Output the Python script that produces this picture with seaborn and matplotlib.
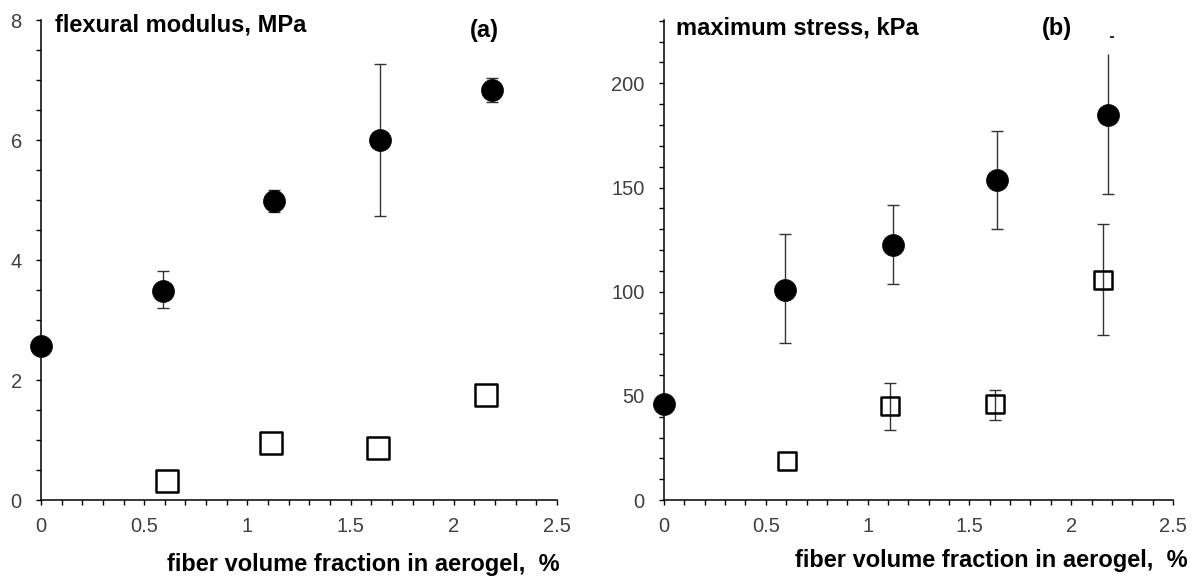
import numpy as np
import pandas as pd
import matplotlib
matplotlib.use("Agg")
import matplotlib.pyplot as plt
import seaborn as sns
from matplotlib.ticker import MultipleLocator

sns.set_theme(style="white")
plt.rcParams['font.family'] = ['Liberation Sans', 'DejaVu Sans']

# ---- data: panel (a) flexural modulus, MPa ----
a_fill_x = [0.0, 0.59, 1.128, 1.641, 2.185]
a_fill_y = [2.57, 3.49, 4.98, 6.0, 6.83]
a_fill_lo = [2.57, 3.2, 4.80, 4.73, 6.63]
a_fill_hi = [2.57, 3.82, 5.16, 7.26, 7.04]
a_open_x = [0.612, 1.115, 1.632, 2.157]
a_open_y = [0.32, 0.956, 0.864, 1.758]

# ---- data: panel (b) maximum stress, kPa ----
b_fill_x = [0.0, 0.593, 1.123, 1.637, 2.18]
b_fill_y = [46.2, 100.8, 122.3, 153.8, 184.7]
b_fill_lo = [46.2, 75.4, 103.6, 130.0, 146.7]
b_fill_hi = [46.2, 127.5, 141.5, 177.2, 214.2]
b_fill_hicap = [True, True, True, True, False]
b_open_x = [0.606, 1.11, 1.627, 2.154]
b_open_y = [18.7, 45.3, 45.9, 105.4]
b_open_lo = [18.7, 33.4, 38.6, 79.1]
b_open_hi = [18.7, 56.4, 53.0, 132.4]
b_stray_x = [2.2]
b_stray_y = [222.2]

xlabel = "fiber volume fraction in aerogel,  %"

W, H = 1200, 581
fig = plt.figure(figsize=(12, 5.81), dpi=100)
axA = fig.add_axes([41 / W, (H - 500) / H, (557 - 41) / W, 480 / H])
axB = fig.add_axes([664 / W, (H - 500) / H, (1173 - 664) / W, 480 / H])

tick_col = '#404040'
err_col = '#333333'


def style(ax, ymax, ymajor, yminor):
    ax.set_xlim(0, 2.5)
    ax.set_ylim(0, ymax)
    ax.xaxis.set_major_locator(MultipleLocator(0.5))
    ax.xaxis.set_minor_locator(MultipleLocator(0.1))
    ax.yaxis.set_major_locator(MultipleLocator(ymajor))
    ax.yaxis.set_minor_locator(MultipleLocator(yminor))
    ax.xaxis.set_major_formatter(plt.FuncFormatter(lambda v, p: f"{v:g}"))
    ax.yaxis.set_major_formatter(plt.FuncFormatter(lambda v, p: f"{v:g}"))
    for s in ['top', 'right']:
        ax.spines[s].set_visible(False)
    for s in ['left', 'bottom']:
        ax.spines[s].set_color('black')
        ax.spines[s].set_linewidth(1.1)
    ax.tick_params(axis='both', which='both', direction='out', color='black',
                   width=1.0, labelcolor=tick_col, labelsize=14.5,
                   bottom=True, left=True, top=False, right=False)
    ax.tick_params(axis='both', which='both', length=3.8)
    ax.tick_params(axis='x', which='major', pad=8.5)
    ax.tick_params(axis='y', which='major', pad=10)
    ax.grid(False)
    ax.set_facecolor('white')
    ax.set_xlabel('')
    ax.set_ylabel('')


def errbars(ax, x, lo, hi, hicap=None):
    x = np.asarray(x); lo = np.asarray(lo); hi = np.asarray(hi)
    if hicap is None:
        hicap = np.ones(len(x), bool)
    hicap = np.asarray(hicap, bool)
    ax.vlines(x, lo, hi, colors=err_col, linewidth=1.0, zorder=2)
    ax.scatter(x, lo, marker='_', s=85, color=err_col, linewidths=1.0, zorder=2)
    ax.scatter(x[hicap], hi[hicap], marker='_', s=85, color=err_col, linewidths=1.0, zorder=2)


def px(xp, yp):
    return xp / W, 1 - yp / H


# ---- panel (a) ----
dfa_f = pd.DataFrame({'x': a_fill_x, 'y': a_fill_y})
dfa_o = pd.DataFrame({'x': a_open_x, 'y': a_open_y})
errbars(axA, a_fill_x[1:], a_fill_lo[1:], a_fill_hi[1:])
sns.scatterplot(data=dfa_f, x='x', y='y', ax=axA, marker='o', s=250, color='black',
                edgecolor='black', linewidth=0.5, zorder=3, clip_on=False, legend=False)
sns.scatterplot(data=dfa_o, x='x', y='y', ax=axA, marker='s', s=250, facecolor='white',
                edgecolor='black', linewidth=1.8, zorder=3, clip_on=False, legend=False)
style(axA, 8, 2, 0.5)
fig.text(*px(55, 25), "flexural modulus, MPa", fontsize=17, fontweight='bold',
         ha='left', va='center', color='black')
fig.text(*px(484, 30), "(a)", fontsize=17, fontweight='bold',
         ha='center', va='center', color='black')
fig.text(*px(560, 564), xlabel, fontsize=17, fontweight='bold',
         ha='right', va='center', color='black')

# ---- panel (b) ----
dfb_f = pd.DataFrame({'x': b_fill_x, 'y': b_fill_y})
dfb_o = pd.DataFrame({'x': b_open_x, 'y': b_open_y})
errbars(axB, b_fill_x[1:], b_fill_lo[1:], b_fill_hi[1:], b_fill_hicap[1:])
errbars(axB, b_open_x[1:], b_open_lo[1:], b_open_hi[1:])
axB.scatter(b_stray_x, b_stray_y, marker='_', s=12, color='black', linewidths=1.2, zorder=2)
sns.scatterplot(data=dfb_f, x='x', y='y', ax=axB, marker='o', s=250, color='black',
                edgecolor='black', linewidth=0.5, zorder=3, clip_on=False, legend=False)
sns.scatterplot(data=dfb_o, x='x', y='y', ax=axB, marker='s', s=185, facecolor=(1, 1, 1, 0),
                edgecolor='black', linewidth=1.8, zorder=3, clip_on=False, legend=False)
style(axB, 230.4, 50, 10)
fig.text(*px(676, 28), "maximum stress, kPa", fontsize=17, fontweight='bold',
         ha='left', va='center', color='black')
fig.text(*px(1057, 28), "(b)", fontsize=17, fontweight='bold',
         ha='center', va='center', color='black')
fig.text(*px(1188, 561), xlabel, fontsize=17, fontweight='bold',
         ha='right', va='center', color='black')

fig.savefig("out.png", dpi=100, facecolor='white')
